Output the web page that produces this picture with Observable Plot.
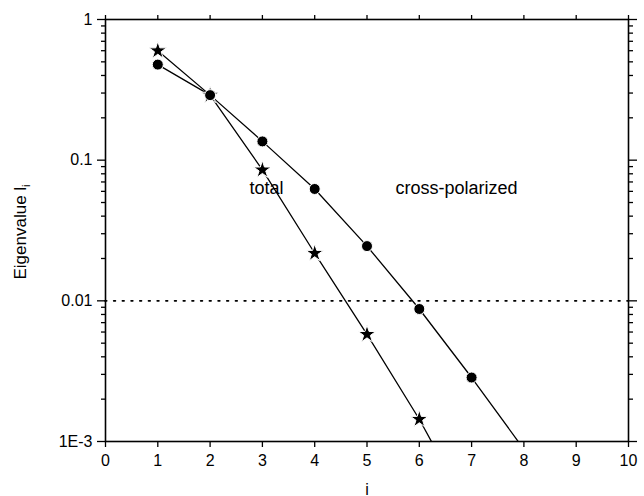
<!DOCTYPE html>
<html>
<head>
<meta charset="utf-8">
<script src="https://cdn.jsdelivr.net/npm/d3@7"></script>
<script src="https://cdn.jsdelivr.net/npm/@observablehq/plot@0.6"></script>
<style>
  body { margin: 0; background: #fff; }
  #chart svg { font-family: "Liberation Sans", Arial, sans-serif; }
</style>
</head>
<body>
<div id="chart"></div>
<script>
// Eigenvalue index
const index = [1, 2, 3, 4, 5, 6, 7, 8];
// Eigenvalues for the cross-polarized and total cases (last points fall below the axis)
const crossPolarized = [0.478, 0.29, 0.136, 0.0624, 0.0245, 0.00875, 0.00285, 0.00088];
const total = [0.60, 0.29, 0.0853, 0.0218, 0.00578, 0.00144, 0.00030];

// Axis ticks
const xTicks = [0, 1, 2, 3, 4, 5, 6, 7, 8, 9, 10];
const yMajor = [0.001, 0.01, 0.1, 1];
const yMajorLabels = ["1E-3", "0.01", "0.1", "1"];
const yMinor = [0.001, 0.01, 0.1].flatMap(d => [2, 3, 4, 5, 6, 7, 8, 9].map(k => +(d * k).toPrecision(3)));

// Threshold level
const threshold = [0.01];

// Series annotations
const seriesNames = ["total", "cross-polarized"];
const seriesLabelX = [3.08, 6.71];
const seriesLabelY = [0.0635, 0.0635];

const crossData = crossPolarized.map((v, k) => ({i: index[k], v}));
const totalData = total.map((v, k) => ({i: index[k], v}));
const annotations = seriesNames.map((name, k) => ({name, x: seriesLabelX[k], y: seriesLabelY[k]}));

const majorLabel = d => yMajorLabels[yMajor.indexOf(d)] ?? "";
const blank = () => "";

const plot = Plot.plot({
  width: 644,
  height: 496,
  marginLeft: 105,
  marginRight: 16,
  marginTop: 19,
  marginBottom: 55,
  style: {fontFamily: "'Liberation Sans', Arial, sans-serif", fontSize: "16px", background: "#fff", color: "#000"},
  x: {domain: [0, 10]},
  y: {type: "log", domain: [0.001, 1]},
  marks: [
    Plot.ruleY(threshold, {stroke: "#000", strokeWidth: 1.7, strokeDasharray: "1.7,7", strokeLinecap: "round"}),
    Plot.line(crossData, {x: "i", y: "v", stroke: "#000", strokeWidth: 1.3, clip: true}),
    Plot.line(totalData, {x: "i", y: "v", stroke: "#000", strokeWidth: 1.3, clip: true}),
    Plot.dot(totalData, {x: "i", y: "v", r: 5.5, symbol: "star", fill: "#000", stroke: "#fff", strokeWidth: 1, clip: true}),
    Plot.dot(crossData, {x: "i", y: "v", r: 5.5, fill: "#000", stroke: "#fff", strokeWidth: 1, clip: true}),
    Plot.text(annotations, {x: "x", y: "y", text: "name", fontSize: 18, fill: "#000"}),
    Plot.axisX({ticks: xTicks, tickSize: 6, tickPadding: 7, strokeWidth: 1.3, fontSize: 16,
      label: "i", labelAnchor: "center", labelArrow: "none", labelOffset: 53}),
    Plot.axisX({anchor: "top", ticks: xTicks, tickSize: 5, strokeWidth: 1.3, tickFormat: blank, label: null}),
    Plot.axisY({ticks: yMinor, tickSize: 4, strokeWidth: 1.3, tickFormat: blank, label: null}),
    Plot.axisY({ticks: yMajor, tickSize: 8, tickPadding: 5, strokeWidth: 1.3, fontSize: 16, tickFormat: majorLabel, label: null}),
    Plot.axisY({anchor: "right", ticks: yMinor, tickSize: 4, strokeWidth: 1.3, tickFormat: blank, label: null}),
    Plot.axisY({anchor: "right", ticks: yMajor, tickSize: 8, strokeWidth: 1.3, tickFormat: blank, label: null}),
    Plot.frame({stroke: "#000", strokeWidth: 1.6})
  ]
});

// Y axis title with a subscript index
const svg = d3.select(plot);
const title = svg.append("text")
  .attr("transform", "translate(26,232) rotate(-90)")
  .attr("text-anchor", "middle")
  .attr("font-size", 17)
  .attr("fill", "#000");
title.append("tspan").text("Eigenvalue l");
title.append("tspan").attr("font-size", 11).attr("dy", 4).text("i");

document.getElementById("chart").append(plot);
</script>
</body>
</html>
